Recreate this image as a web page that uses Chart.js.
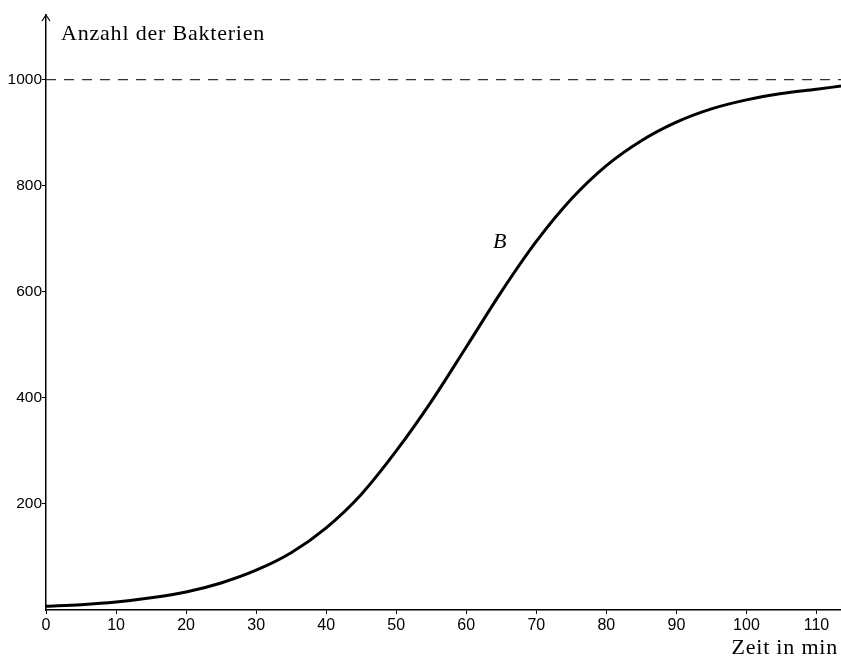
<!DOCTYPE html>
<html lang="de">
<head>
<meta charset="UTF-8"/>
<meta name="viewport" content="width=device-width, initial-scale=1.0"/>
<title>Anzahl der Bakterien</title>
<style>
    html, body {
        margin: 0;
        background: #fff;
        overflow: hidden;
    }

    .chart-container {
        position: relative;
        width: 841px;
        height: 657px;
    }
</style>
</head>
<body>
<div class="chart-container">
    <canvas id="bacteriaChart"></canvas>
</div>

<script src="https://cdn.jsdelivr.net/npm/chart.js"></script>
<script>
// Curve B (time in minutes -> number of bacteria)
const timeMinutes = [0, 5, 10, 15, 20, 25, 30, 35, 40, 45, 50, 55, 60, 65, 70, 75, 80, 85, 90, 95, 100, 105, 110, 113.5];
const bacteriaCount = [7, 10, 15, 23, 34, 51, 75, 108, 155, 218, 300, 393, 496, 600, 695, 775, 838, 885, 920, 945, 962, 974, 982, 988];

// Dashed upper limit
const limitTime = [0, 113.5];
const limitCount = [1000, 1000];

// Tick labels
const xTickValues = [0, 10, 20, 30, 40, 50, 60, 70, 80, 90, 100, 110];
const yTickValues = [200, 400, 600, 800, 1000];

const serif = '"Liberation Serif", "Times New Roman", serif';
const sans = '"Liberation Sans", Arial, sans-serif';

// Arrow head on the y axis and the text labels
const annotations = {
    id: 'annotations',
    afterDraw(chart) {
        const { ctx, chartArea, scales: { x, y } } = chart;
        const ax = x.getPixelForValue(0);
        ctx.save();

        ctx.strokeStyle = '#000';
        ctx.lineWidth = 1.2;
        ctx.beginPath();
        ctx.moveTo(ax - 4, chartArea.top + 6);
        ctx.lineTo(ax, chartArea.top);
        ctx.lineTo(ax + 4, chartArea.top + 6);
        ctx.stroke();

        ctx.fillStyle = '#000';
        ctx.letterSpacing = '0.8px';
        ctx.textBaseline = 'alphabetic';

        ctx.font = '22px ' + serif;
        ctx.textAlign = 'left';
        ctx.fillText('Anzahl der Bakterien', ax + 15, 40);

        ctx.textAlign = 'right';
        ctx.fillText('Zeit in min', chartArea.right - 3, 654);

        ctx.font = 'italic 22px ' + serif;
        ctx.textAlign = 'left';
        ctx.fillText('B', x.getPixelForValue(63.8), y.getPixelForValue(683));

        ctx.restore();
    }
};

const ctx = document.getElementById('bacteriaChart').getContext('2d');
new Chart(ctx, {
    type: 'line',
    data: {
        datasets: [
            {
                label: 'B',
                data: timeMinutes.map((t, i) => ({ x: t, y: bacteriaCount[i] })),
                borderColor: '#000',
                borderWidth: 3,
                pointRadius: 0,
                cubicInterpolationMode: 'monotone',
                fill: false
            },
            {
                label: 'Grenze',
                data: limitTime.map((t, i) => ({ x: t, y: limitCount[i] })),
                borderColor: '#333',
                borderWidth: 1.3,
                borderDash: [10, 8],
                pointRadius: 0,
                fill: false
            }
        ]
    },
    options: {
        responsive: true,
        maintainAspectRatio: false,
        animation: false,
        layout: {
            padding: { top: 15, right: 0, bottom: 0, left: 0 }
        },
        plugins: {
            legend: { display: false },
            tooltip: { enabled: false }
        },
        scales: {
            x: {
                type: 'linear',
                min: 0,
                max: 113.5,
                afterBuildTicks: scale => {
                    scale.ticks = xTickValues.map(v => ({ value: v }));
                },
                afterFit: scale => { scale.height = 47; },
                border: { color: '#000', width: 1.5 },
                grid: { drawOnChartArea: false, tickLength: 4, color: '#000' },
                ticks: {
                    color: '#000',
                    padding: 2,
                    maxRotation: 0,
                    callback: value => String(value),
                    font: { family: sans, size: 16 }
                }
            },
            y: {
                type: 'linear',
                min: 0,
                max: 1122,
                afterBuildTicks: scale => {
                    scale.ticks = yTickValues.map(v => ({ value: v }));
                },
                afterFit: scale => { scale.width = 46; },
                border: { color: '#000', width: 1.5 },
                grid: { drawOnChartArea: false, tickLength: 4, color: '#000' },
                ticks: {
                    color: '#000',
                    padding: 0,
                    callback: value => String(value),
                    font: { family: sans, size: 15.5 }
                }
            }
        }
    },
    plugins: [annotations]
});
</script>
</body>
</html>
